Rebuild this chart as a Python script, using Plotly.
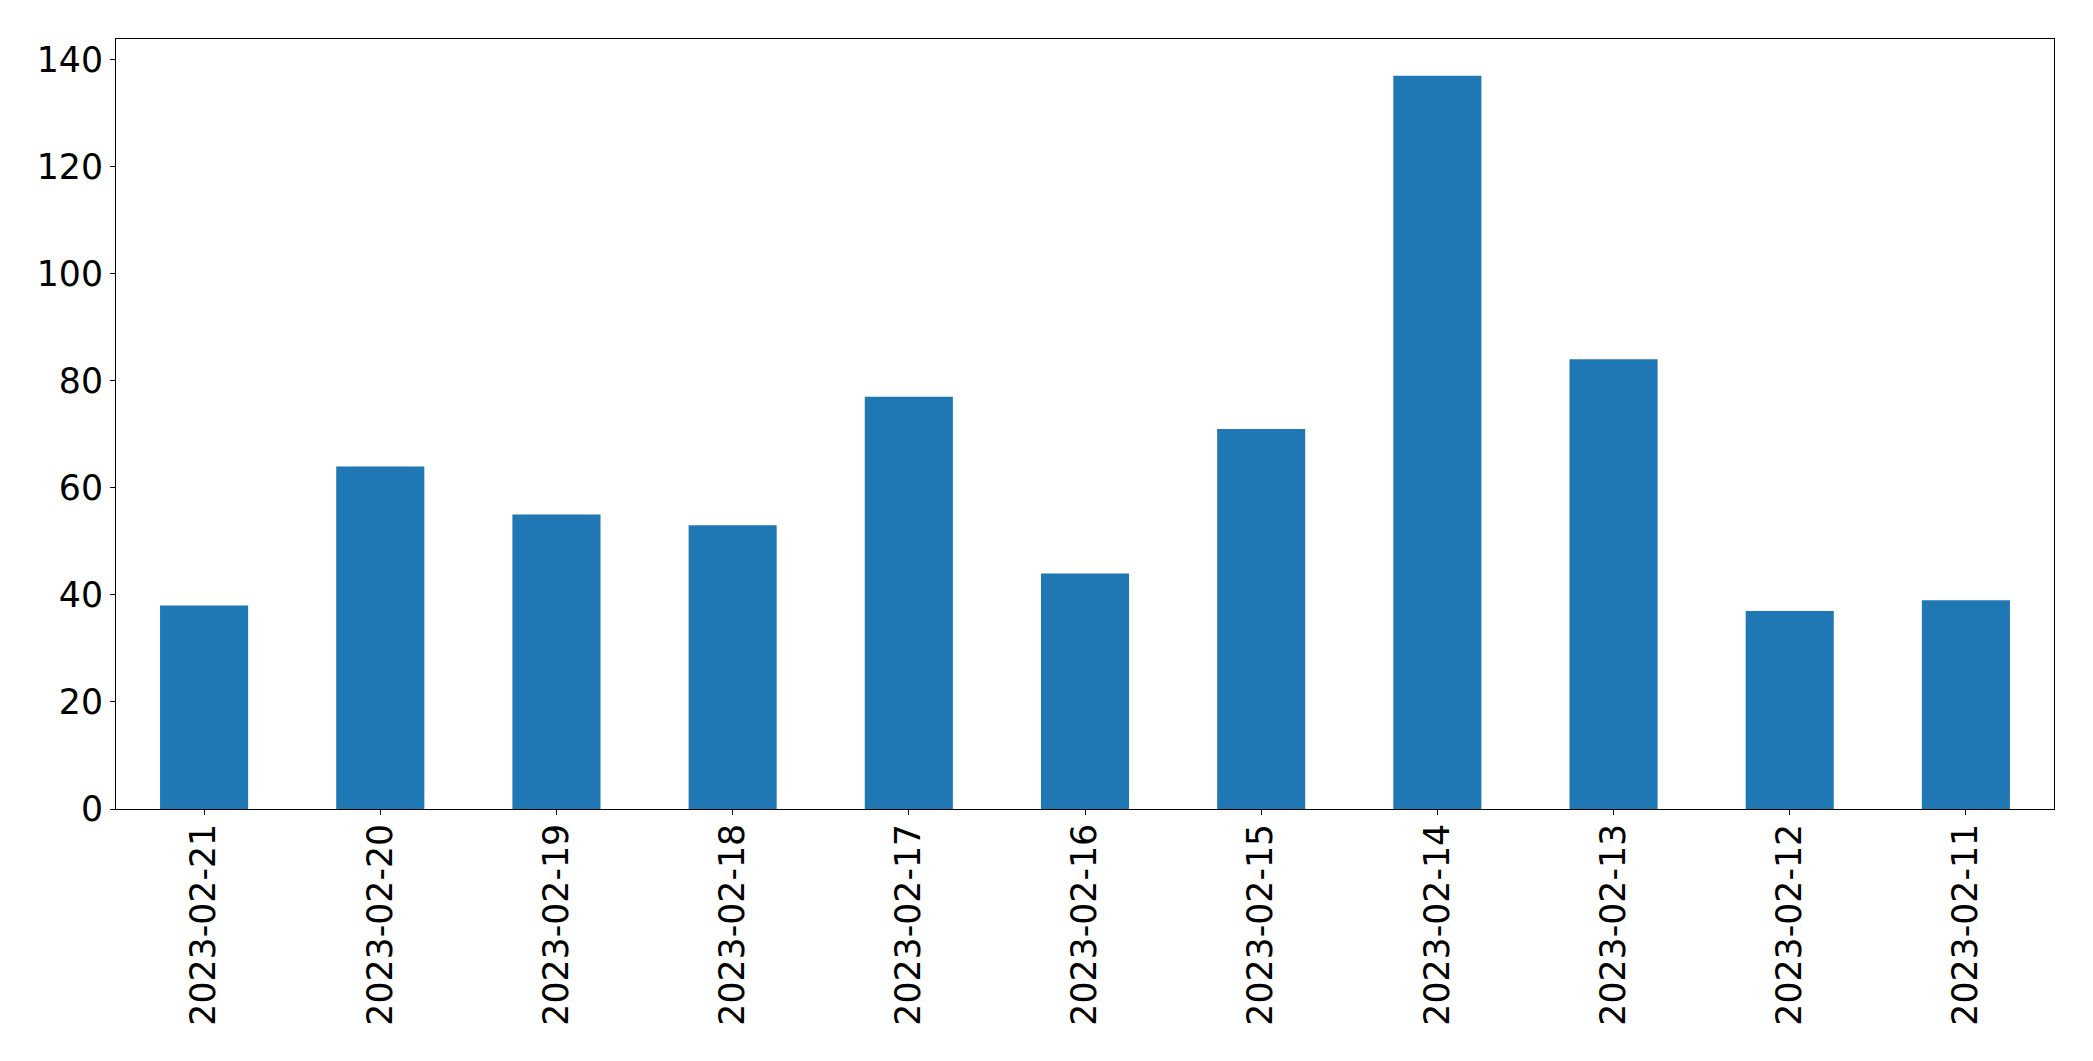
import plotly.graph_objects as go

dates = ["2023-02-21", "2023-02-20", "2023-02-19", "2023-02-18", "2023-02-17",
         "2023-02-16", "2023-02-15", "2023-02-14", "2023-02-13", "2023-02-12",
         "2023-02-11"]
counts = [38, 64, 55, 53, 77, 44, 71, 137, 84, 37, 39]
y_ticks = [0, 20, 40, 60, 80, 100, 120, 140]

fig = go.Figure()
fig.add_trace(go.Bar(x=dates, y=counts, width=0.5, marker=dict(color="#1f77b4", line=dict(width=0))))

font = dict(family="DejaVu Sans", size=34.72, color="black")
fig.update_layout(
    width=2093, height=1061,
    margin=dict(l=116, r=39, t=39, b=252, pad=0),
    paper_bgcolor="white", plot_bgcolor="white",
    showlegend=False,
    font=font,
    bargap=0.5,
)
fig.update_xaxes(
    type="category", range=[-0.5, len(dates) - 0.5],
    tickangle=-90, ticks="outside", ticklen=5, tickwidth=1, tickcolor="black",
    ticklabelstandoff=-5,
    showline=True, linecolor="black", linewidth=1, mirror=True,
    showgrid=False, zeroline=False, tickfont=font,
)
fig.update_yaxes(
    range=[0, max(counts) * 1.05], tickvals=y_ticks,
    ticks="outside", ticklen=5, tickwidth=1, tickcolor="black",
    showline=True, linecolor="black", linewidth=1, mirror=True,
    showgrid=False, zeroline=False, tickfont=font,
)
fig.write_html("out.html")
